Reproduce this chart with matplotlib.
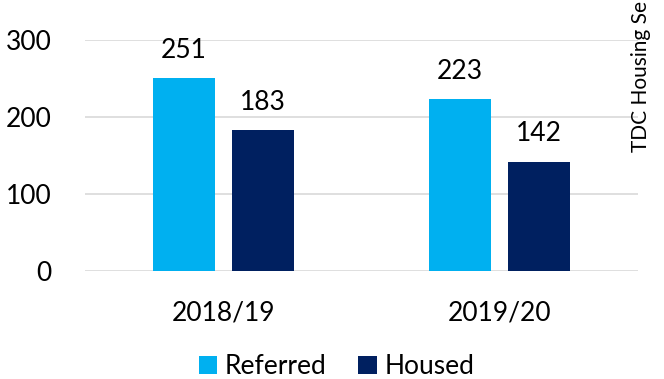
import numpy as np
import matplotlib.pyplot as plt

plt.rcParams['font.family'] = ['Lato', 'DejaVu Sans']

# Referrals vs households housed per year
years = ["2018/19", "2019/20"]
referred = [251, 223]
housed = [183, 142]

REFERRED_COLOR = "#00B0F0"
HOUSED_COLOR = "#002060"
FS = 19


def main():
    fig = plt.figure(figsize=(6.64, 3.79), dpi=100)
    ax = fig.add_axes([0.128, 0.285, 0.833, 0.609])

    x = np.arange(len(years))
    width = 0.224
    offset = 0.143
    b1 = ax.bar(x - offset, referred, width, color=REFERRED_COLOR, label="Referred", zorder=3)
    b2 = ax.bar(x + offset, housed, width, color=HOUSED_COLOR, label="Housed", zorder=3)

    for bars, vals in ((b1, referred), (b2, housed)):
        for rect, v in zip(bars, vals):
            ax.annotate(str(v), (rect.get_x() + rect.get_width() / 2, v),
                        xytext=(0, 11), textcoords="offset points",
                        ha="center", va="bottom", fontsize=FS)

    ax.set_xlim(-0.5, len(years) - 0.5)
    ax.set_ylim(0, 300)
    ax.set_yticks([0, 100, 200, 300])
    ax.set_xticks(x)
    ax.set_xticklabels(years)
    ax.tick_params(axis="both", length=0, labelsize=FS)
    ax.tick_params(axis="y", pad=24)
    ax.tick_params(axis="x", pad=21)
    ax.grid(axis="y", color="#D9D9D9", lw=1.2, zorder=0)
    for s in ax.spines.values():
        s.set_visible(False)

    ax.legend(loc="center", bbox_to_anchor=(0.455, -0.415), ncol=2, frameon=False,
              fontsize=FS, handlelength=0.7, handleheight=0.7, handletextpad=0.3,
              columnspacing=1.2, borderpad=0.2)

    # source note down the right edge
    fig.text(0.965, 0.598, "TDC Housing Se", rotation=90, ha="center", va="bottom",
             fontsize=15)

    fig.savefig("out.png", dpi=100)


if __name__ == "__main__":
    main()
